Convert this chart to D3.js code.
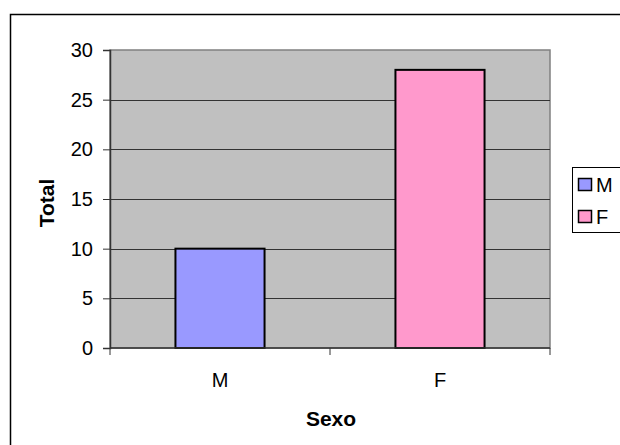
<!DOCTYPE html>
<html><head><meta charset="utf-8">
<script src="https://cdn.jsdelivr.net/npm/d3@7/dist/d3.min.js"></script>
<style>body{margin:0;background:#fff}svg{display:block}text{font-family:"Liberation Sans",Arial,sans-serif}</style>
</head><body>
<script>
const categories = ["M", "F"];
const values = [10, 28];
const colors = ["#9999FF", "#FF99CC"];
const yTicks = [0, 5, 10, 15, 20, 25, 30];

const W = 620, H = 445;
const FS = 20;
const svg = d3.select("body").append("svg").attr("width", W).attr("height", H);

// outer frame
svg.append("rect").attr("x", 10.5).attr("y", 14.5).attr("width", 700).attr("height", 500)
  .attr("fill", "none").attr("stroke", "#000").attr("stroke-width", 1.5);

const L = 110, R = 550, T = 50, B = 348;
const x = d3.scaleBand().domain(categories).range([L, R]).padding(0);
const y = d3.scaleLinear().domain([0, 30]).range([B, T]);

// plot area
svg.append("rect").attr("x", L).attr("y", T).attr("width", R - L).attr("height", B - T)
  .attr("fill", "#C0C0C0").attr("stroke", "#808080").attr("stroke-width", 1.5);

// gridlines
svg.append("g").selectAll("line").data(yTicks.filter(d => d > 0 && d < 30)).join("line")
  .attr("x1", L).attr("x2", R).attr("y1", d => Math.round(y(d)) + 0.5).attr("y2", d => Math.round(y(d)) + 0.5)
  .attr("stroke", "#333").attr("stroke-width", 1);

// bars
const bw = x.bandwidth() * 0.405;
svg.append("g").selectAll("rect").data(values).join("rect")
  .attr("x", (d, i) => x(categories[i]) + x.bandwidth() / 2 - bw / 2)
  .attr("y", d => y(d))
  .attr("width", bw)
  .attr("height", d => B - y(d))
  .attr("fill", (d, i) => colors[i])
  .attr("stroke", "#000").attr("stroke-width", 2);

// y axis
const yAxis = d3.axisLeft(y).tickValues(yTicks).tickSize(7).tickPadding(10);
const ya = svg.append("g").attr("transform", `translate(${L},0)`).call(yAxis)
  .attr("font-size", null).attr("font-family", null);
ya.select(".domain").attr("stroke", "#333").attr("stroke-width", 1.5);
ya.selectAll(".tick line").attr("stroke", "#333");
ya.selectAll("text").style("font-size", FS + "px").attr("fill", "#000");

// x axis
const xa = svg.append("g").attr("transform", `translate(0,${B})`);
xa.append("line").attr("x1", L).attr("x2", R).attr("y1", 0).attr("y2", 0).attr("stroke", "#333").attr("stroke-width", 1.5);
const boundaries = [L, ...categories.map(c => x(c) + x.bandwidth())];
xa.selectAll("line.tk").data(boundaries).join("line").attr("class", "tk")
  .attr("x1", d => d).attr("x2", d => d).attr("y1", 0).attr("y2", 7).attr("stroke", "#333");
xa.selectAll("text").data(categories).join("text")
  .attr("x", d => x(d) + x.bandwidth() / 2).attr("y", 39)
  .attr("text-anchor", "middle").style("font-size", FS + "px").text(d => d);

// axis titles
svg.append("text").attr("x", (L + R) / 2 + 1).attr("y", 426).attr("text-anchor", "middle")
  .style("font-size", "21px").attr("font-weight", "bold").text("Sexo");
svg.append("text").attr("transform", `translate(54,203) rotate(-90)`).attr("text-anchor", "middle")
  .style("font-size", "21px").attr("font-weight", "bold").text("Total");

// legend
const lg = svg.append("g");
lg.append("rect").attr("x", 572.5).attr("y", 167.5).attr("width", 80).attr("height", 65)
  .attr("fill", "#fff").attr("stroke", "#000").attr("stroke-width", 1);
categories.forEach((c, i) => {
  const yy = 178 + i * 32;
  lg.append("rect").attr("x", 578.5).attr("y", yy + 0.5).attr("width", 13).attr("height", 12)
    .attr("fill", colors[i]).attr("stroke", "#000").attr("stroke-width", 1.5);
  lg.append("text").attr("x", 596).attr("y", yy + 14).style("font-size", FS + "px").text(c);
});
</script>
</body></html>
